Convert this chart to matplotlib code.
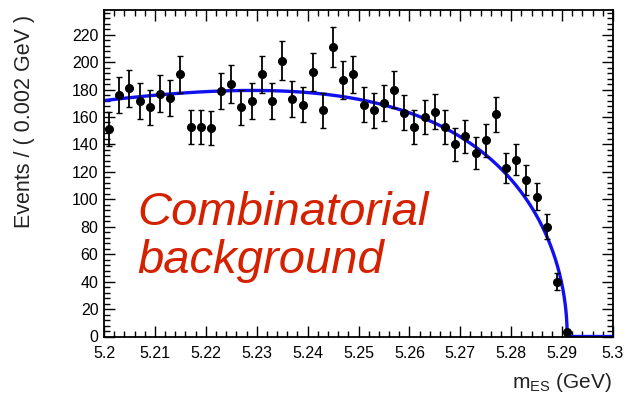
import numpy as np
import matplotlib
matplotlib.use("Agg")
import matplotlib.pyplot as plt
from matplotlib.ticker import MultipleLocator, FormatStrFormatter

plt.rcParams["font.family"] = ["Liberation Sans", "DejaVu Sans"]

# bin centres of the 0.002 GeV histogram (only the filled bins are drawn)
bin_centres = [5.201, 5.203, 5.205, 5.207, 5.209, 5.211, 5.213, 5.215, 5.217, 5.219,
               5.221, 5.223, 5.225, 5.227, 5.229, 5.231, 5.233, 5.235, 5.237, 5.239,
               5.241, 5.243, 5.245, 5.247, 5.249, 5.251, 5.253, 5.255, 5.257, 5.259,
               5.261, 5.263, 5.265, 5.267, 5.269, 5.271, 5.273, 5.275, 5.277, 5.279,
               5.281, 5.283, 5.285, 5.287, 5.289, 5.291]
counts = [151, 176, 181, 172, 167, 177, 174, 191, 153, 153,
          152, 179, 184, 167, 172, 191, 172, 201, 173, 169,
          193, 165, 211, 187, 191, 169, 165, 170, 180, 163,
          153, 160, 164, 153, 140, 146, 134, 143, 162, 123,
          129, 114, 102, 80, 40, 3]

# ARGUS fit parameters
argus_m0 = 5.291
argus_c = -21.0
argus_at_5p2 = 172.0

x_ticks = [5.2, 5.21, 5.22, 5.23, 5.24, 5.25, 5.26, 5.27, 5.28, 5.29, 5.3]
y_ticks = [0, 20, 40, 60, 80, 100, 120, 140, 160, 180, 200, 220]


def argus(m):
    u = np.clip(1 - (m / argus_m0) ** 2, 0, None)
    return m * np.sqrt(u) * np.exp(argus_c * u)


fig = plt.figure(figsize=(6.28, 4.03), dpi=100)
ax = fig.add_axes([104 / 628, 66.5 / 403, 509 / 628, 326.5 / 403])

x = np.array(bin_centres)
y = np.array(counts)
ax.errorbar(x, y, yerr=np.sqrt(y), fmt="o", color="black", ms=5.5,
            elinewidth=1.3, capsize=2, capthick=1.0, zorder=3)

m = np.linspace(5.2, 5.3, 2000)
norm = argus_at_5p2 / argus(5.2)
ax.plot(m, norm * argus(m), color="#1010f0", lw=2.4, zorder=2)

ax.set_xlim(5.2, 5.3)
ax.set_ylim(0, 238)
ax.set_xticks(x_ticks)
ax.set_yticks(y_ticks)
ax.xaxis.set_major_formatter(FormatStrFormatter("%g"))
ax.xaxis.set_minor_locator(MultipleLocator(0.002))
ax.yaxis.set_minor_locator(MultipleLocator(4))
ax.tick_params(which="both", direction="in", top=True, right=True,
               labelsize=11.5, width=1)
ax.tick_params(which="major", length=8)
ax.tick_params(which="minor", length=4)
ax.tick_params(axis="x", pad=7)
ax.tick_params(axis="y", pad=4)
for s in ax.spines.values():
    s.set_linewidth(1.3)

fig.text(25 / 628, 1 - 15 / 403, "Events / ( 0.002 GeV )", rotation=90,
         ha="center", va="top", fontsize=15.5, color="#222222")
fig.text(612 / 628, 1 - 383 / 403, r"$\mathregular{m_{ES}}$ (GeV)",
         ha="right", va="center", fontsize=15, color="#222222")

ax.text(5.2066, 106, "Combinatorial\nbackground", color="#d42200",
        fontsize=34, style="italic", ha="left", va="top", linespacing=1.12)

fig.savefig("out.png", dpi=100)
